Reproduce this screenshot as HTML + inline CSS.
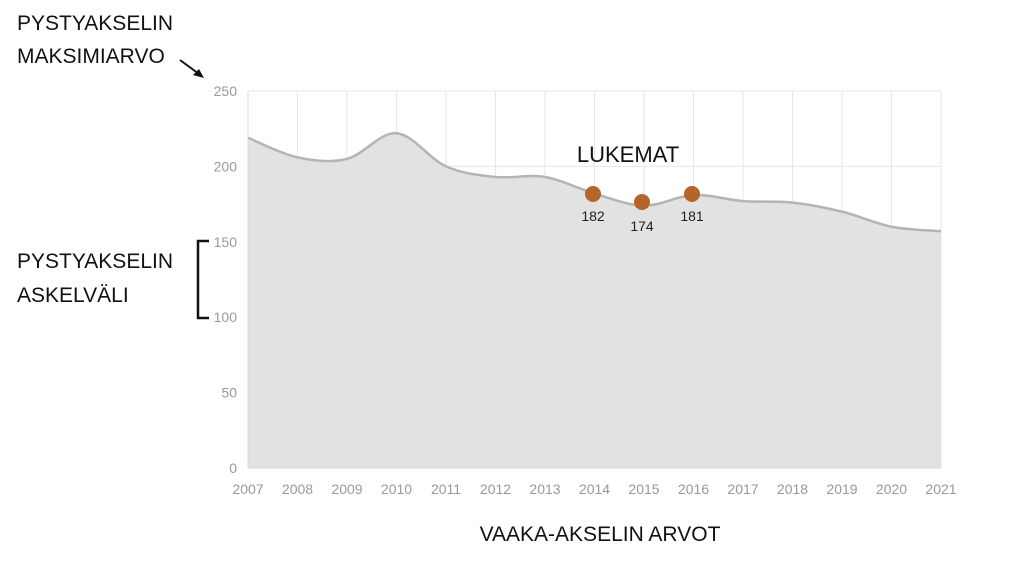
<!DOCTYPE html>
<html><head><meta charset="utf-8"><style>
body{margin:0;background:#fff;width:1024px;height:576px;overflow:hidden}
svg text{font-family:"Liberation Sans",sans-serif}
</style></head><body>
<svg id="s" width="1024" height="576" xmlns="http://www.w3.org/2000/svg">
<g stroke="#e6e6e6" stroke-width="1" id="grid"></g>
<path id="area" fill="#e2e2e2" stroke="none"/>
<path id="line" fill="none" stroke="#b4b4b4" stroke-width="2.5"/>
<line x1="248" y1="91" x2="248" y2="468" stroke="#d8d8d8"/>
<line x1="248" y1="468" x2="941" y2="468" stroke="#d8d8d8"/>
<g id="lab" fill="#999" font-size="14"></g>
<circle cx="593" cy="194" r="8" fill="#b5652a"/>
<circle cx="642" cy="202" r="8" fill="#b5652a"/>
<circle cx="692" cy="194" r="8" fill="#b5652a"/>
<g font-size="14" fill="#222" text-anchor="middle">
<text x="593" y="221">182</text><text x="642" y="231">174</text><text x="692" y="221">181</text>
</g>
<text x="628" y="162" font-size="22" fill="#111" text-anchor="middle">LUKEMAT</text>
<g font-size="21" fill="#111">
<text x="17" y="30">PYSTYAKSELIN</text>
<text x="17" y="63">MAKSIMIARVO</text>
<text x="17" y="268">PYSTYAKSELIN</text>
<text x="17" y="302">ASKELVÄLI</text>
<text x="600" y="541" text-anchor="middle">VAAKA-AKSELIN ARVOT</text>
</g>
<line x1="180" y1="60" x2="199" y2="74" stroke="#111" stroke-width="2"/>
<polygon points="204,78 193,75 199,69" fill="#111"/>
<path d="M209,241 H198 V318 H209" fill="none" stroke="#111" stroke-width="2.5"/>
</svg>
<script>
var v=[219,206,205,222,200,193,193,182,174,181,177,176,170,160,157];
var X=i=>248+i*49.5, Y=d=>468-1.508*d;
var g=document.getElementById('grid'),lab=document.getElementById('lab'),ns='http://www.w3.org/2000/svg';
for(var i=0;i<15;i++){var l=document.createElementNS(ns,'line');l.setAttribute('x1',X(i));l.setAttribute('x2',X(i));l.setAttribute('y1',91);l.setAttribute('y2',468);g.appendChild(l);
var t=document.createElementNS(ns,'text');t.setAttribute('x',X(i));t.setAttribute('y',494);t.setAttribute('text-anchor','middle');t.textContent=2007+i;lab.appendChild(t);}
for(var k=0;k<=5;k++){var y=Y(k*50);var l=document.createElementNS(ns,'line');l.setAttribute('x1',248);l.setAttribute('x2',941);l.setAttribute('y1',y);l.setAttribute('y2',y);g.appendChild(l);
var t=document.createElementNS(ns,'text');t.setAttribute('x',237);t.setAttribute('y',y+5);t.setAttribute('text-anchor','end');t.textContent=k*50;lab.appendChild(t);}
var p=v.map((d,i)=>[X(i),Y(d)]);
var s='M'+p[0][0]+','+p[0][1];
for(var i=0;i<p.length-1;i++){var p0=p[Math.max(i-1,0)],p1=p[i],p2=p[i+1],p3=p[Math.min(i+2,p.length-1)];
s+=' C'+(p1[0]+(p2[0]-p0[0])/6)+','+(p1[1]+(p2[1]-p0[1])/6)+' '+(p2[0]-(p3[0]-p1[0])/6)+','+(p2[1]-(p3[1]-p1[1])/6)+' '+p2[0]+','+p2[1];}
document.getElementById('line').setAttribute('d',s);
document.getElementById('area').setAttribute('d',s+' L941,468 L248,468 Z');
</script>
</body></html>
